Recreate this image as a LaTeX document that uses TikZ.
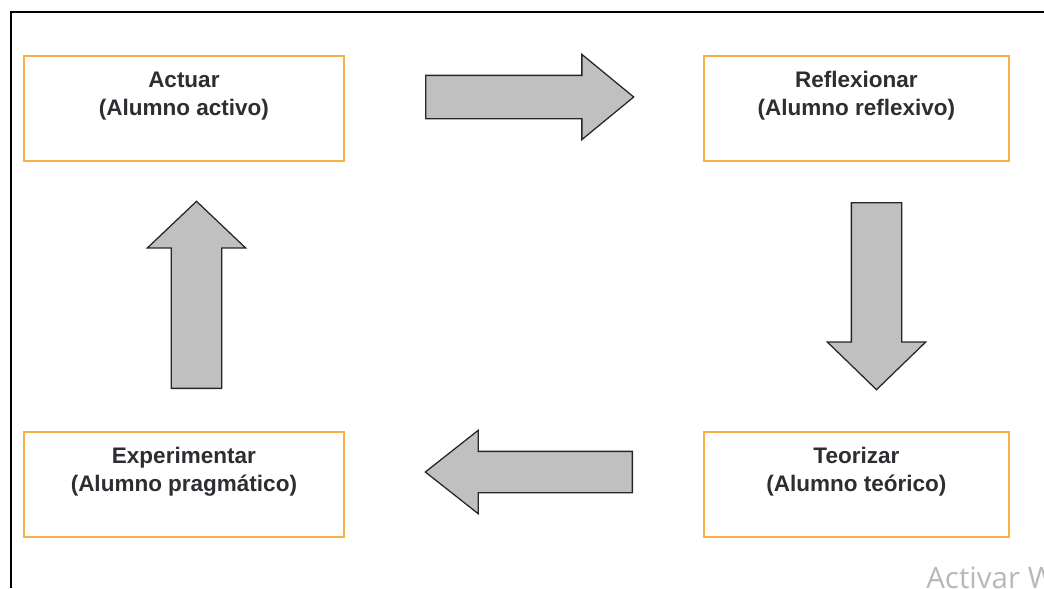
\documentclass[tikz,border=0pt]{standalone}
\usepackage{fontspec}
\setmainfont{Liberation Sans}
\newfontfamily\marcafont{Open Sans}
\usetikzlibrary{shapes.arrows}
\usetikzlibrary{positioning}
\definecolor{naranja}{RGB}{250,176,70}
\definecolor{gris}{RGB}{192,192,192}
\definecolor{texto}{RGB}{45,45,50}
\tikzset{
	etapa/.style={rectangle,draw=naranja,line width=1.2pt,anchor=north west,minimum height=2.625cm,inner sep=0pt,align=center,text height=1.4875cm,text depth=1.1375cm,text=texto,font=\fontsize{16}{19.9}\selectfont\bfseries},
	flecha/.style={single arrow,draw=black!85,fill=gris,line width=0.9pt,inner sep=0pt,minimum width=0pt,text depth=0pt,single arrow head indent=0pt,anchor=tail}
}

\begin{document}
\begin{tikzpicture}
	\begin{scope}[x=0.025cm,y=-0.025cm]
		\useasboundingbox (0,0) rectangle (1044,588);
		% cadre
		\draw[line width=1.4pt] (11,588) -- (11,12) -- (1044,12);
		% les quatre etapes du cycle
		\node (ACTUAR) at (23,55) [etapa,minimum width=8cm] {Actuar\\(Alumno activo)};
		\node (REFLEX) at (703,55) [etapa,minimum width=7.625cm] {Reflexionar\\(Alumno reflexivo)};
		\node (TEORIA) at (703,431) [etapa,minimum width=7.625cm] {Teorizar\\(Alumno teórico)};
		\node (EXPER) at (23,431) [etapa,minimum width=8cm] {Experimentar\\(Alumno pragmático)};
		% fleches pleines entre les etapes
		\node (F1) at (425,97) [flecha,text height=1.05cm,single arrow head extend=0.525cm,single arrow tip angle=78.9,minimum height=5.2cm] {};
		\node (F2) at (876.5,202) [flecha,rotate=-90,text height=1.225cm,single arrow head extend=0.6cm,single arrow tip angle=91.8,minimum height=4.675cm] {};
		\node (F3) at (633,472) [flecha,rotate=180,text height=1cm,single arrow head extend=0.525cm,single arrow tip angle=76.5,minimum height=5.175cm] {};
		\node (F4) at (196.5,389) [flecha,rotate=90,text height=1.225cm,single arrow head extend=0.6cm,single arrow tip angle=93,minimum height=4.675cm] {};
		% filigrane
		\node (MARCA) at (926,588) [anchor=base west,inner sep=0pt,text=black!28,font=\marcafont\fontsize{21}{21}\selectfont] {Activar Windows};
	\end{scope}
\end{tikzpicture}
\end{document}
